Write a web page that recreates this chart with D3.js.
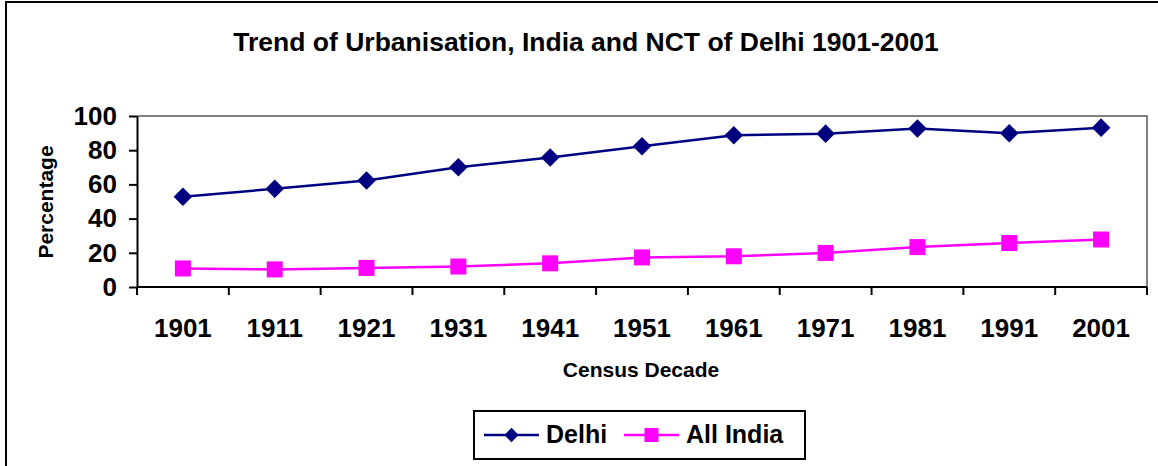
<!DOCTYPE html>
<html>
<head>
<meta charset="utf-8">
<script src="https://cdn.jsdelivr.net/npm/d3@7"></script>
<style>
  body { margin: 0; background: #fff; }
  svg { display: block; font-family: "Liberation Sans", Arial, sans-serif; }
</style>
</head>
<body>
<script>
// Data
const decades = ["1901", "1911", "1921", "1931", "1941", "1951", "1961", "1971", "1981", "1991", "2001"];
const delhi = [52.76, 57.46, 62.25, 69.99, 75.76, 82.36, 88.75, 89.68, 92.73, 89.93, 93.18];
const allIndia = [10.84, 10.29, 11.18, 11.99, 13.86, 17.29, 17.97, 19.91, 23.34, 25.71, 27.78];
const yTicks = [0, 20, 40, 60, 80, 100];

const width = 1158;
const height = 466;
const plot = { left: 137, right: 1147, top: 116, bottom: 287 };

const svg = d3.select("body")
    .append("svg")
    .attr("width", width)
    .attr("height", height);

// outer chart frame
svg.append("rect")
    .attr("x", 6).attr("y", 2)
    .attr("width", width + 20).attr("height", height + 20)
    .attr("fill", "none")
    .attr("stroke", "#000")
    .attr("stroke-width", 2);

// Title
svg.append("text")
    .attr("x", 586).attr("y", 51)
    .attr("text-anchor", "middle")
    .attr("font-size", 26.5)
    .attr("font-weight", "bold")
    .text("Trend of Urbanisation, India and NCT of Delhi 1901-2001");

// Scales
const x = d3.scaleBand()
    .domain(decades)
    .range([plot.left, plot.right]);

const y = d3.scaleLinear()
    .domain([0, 100])
    .range([plot.bottom, plot.top]);

// plot area border (gray top/right)
svg.append("path")
    .attr("d", `M${plot.left},${plot.top}H${plot.right}V${plot.bottom}`)
    .attr("fill", "none")
    .attr("stroke", "#808080")
    .attr("stroke-width", 2);

// Y axis
const yAxis = svg.append("g")
    .attr("transform", `translate(${plot.left},0)`)
    .call(d3.axisLeft(y).tickValues(yTicks).tickSize(8).tickPadding(12).tickSizeOuter(0));
yAxis.select(".domain").attr("stroke-width", 2);
yAxis.selectAll(".tick line").attr("stroke-width", 2);
yAxis.selectAll(".tick text")
    .attr("font-size", 26)
    .attr("font-weight", "bold")
    .attr("font-family", "Liberation Sans, Arial, sans-serif")
    .attr("fill", "#000");

// X axis: ticks between categories
const xAxis = svg.append("g")
    .attr("transform", `translate(0,${plot.bottom})`);
xAxis.append("line")
    .attr("x1", plot.left).attr("x2", plot.right)
    .attr("stroke", "#000").attr("stroke-width", 2);
const bounds = decades.map(d => x(d)).concat([plot.right]);
xAxis.selectAll("line.tk")
    .data(bounds)
    .enter().append("line")
    .attr("class", "tk")
    .attr("x1", d => d).attr("x2", d => d)
    .attr("y1", 0).attr("y2", 8)
    .attr("stroke", "#000").attr("stroke-width", 2);
xAxis.selectAll("text")
    .data(decades)
    .enter().append("text")
    .attr("x", d => x(d) + x.bandwidth() / 2)
    .attr("y", 50)
    .attr("text-anchor", "middle")
    .attr("font-size", 26)
    .attr("font-weight", "bold")
    .text(d => d);

// Axis titles
svg.append("text")
    .attr("transform", "translate(53,202) rotate(-90)")
    .attr("text-anchor", "middle")
    .attr("font-size", 21)
    .attr("font-weight", "bold")
    .text("Percentage");

svg.append("text")
    .attr("x", 641).attr("y", 377)
    .attr("text-anchor", "middle")
    .attr("font-size", 21)
    .attr("font-weight", "bold")
    .text("Census Decade");

// Lines
const line = d3.line()
    .x((d, i) => x(decades[i]) + x.bandwidth() / 2)
    .y(d => y(d));

const series = [
    { name: "Delhi", values: delhi, color: "#000080", shape: d3.symbolDiamond2 },
    { name: "All India", values: allIndia, color: "#FF00FF", shape: d3.symbolSquare }
];

series.forEach(s => {
    svg.append("path")
        .attr("d", line(s.values))
        .attr("fill", "none")
        .attr("stroke", s.color)
        .attr("stroke-width", 2.5);
    const sym = d3.symbol().type(s.shape).size(s.shape === d3.symbolSquare ? 256 : 220);
    svg.selectAll(null)
        .data(s.values)
        .enter().append("path")
        .attr("d", sym)
        .attr("transform", (d, i) => `translate(${x(decades[i]) + x.bandwidth() / 2},${y(d)})`)
        .attr("fill", s.color);
});

// Legend
const legend = svg.append("g");
legend.append("rect")
    .attr("x", 474).attr("y", 411)
    .attr("width", 331).attr("height", 48)
    .attr("fill", "#fff")
    .attr("stroke", "#000")
    .attr("stroke-width", 2);

const legendItems = [
    { s: series[0], x0: 484, tx: 546 },
    { s: series[1], x0: 624, tx: 686 }
];
legendItems.forEach(it => {
    legend.append("line")
        .attr("x1", it.x0).attr("x2", it.x0 + 55)
        .attr("y1", 435).attr("y2", 435)
        .attr("stroke", it.s.color).attr("stroke-width", 2.5);
    legend.append("path")
        .attr("d", d3.symbol().type(it.s.shape).size(it.s.shape === d3.symbolSquare ? 196 : 130))
        .attr("transform", `translate(${it.x0 + 27.5},435)`)
        .attr("fill", it.s.color);
    legend.append("text")
        .attr("x", it.tx).attr("y", 443)
        .attr("font-size", 25)
        .attr("font-weight", "bold")
        .text(it.s.name);
});
</script>
</body>
</html>
